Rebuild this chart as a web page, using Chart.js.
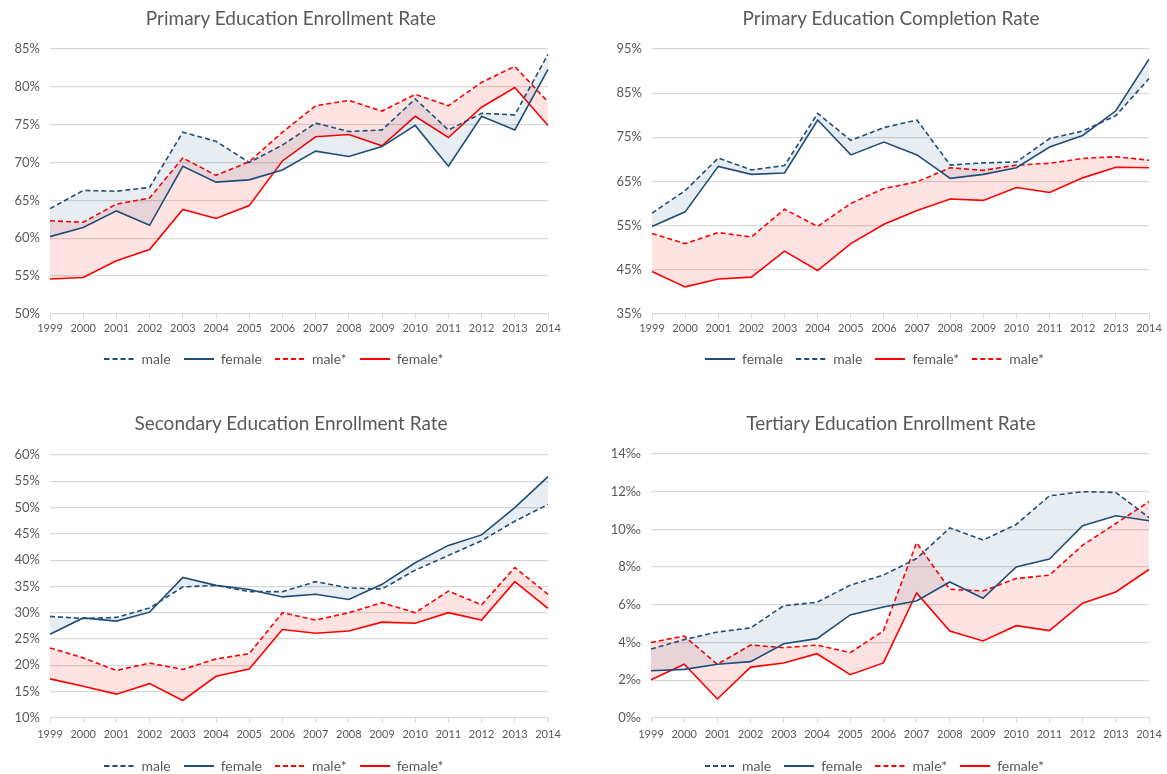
<!DOCTYPE html>
<html>
<head>
<meta charset="utf-8">
<script src="https://cdn.jsdelivr.net/npm/chart.js@4/dist/chart.umd.min.js"></script>
<style>
  body { margin: 0; background: #fff; width: 1167px; height: 774px; overflow: hidden; position: relative; }
  .box { position: absolute; }
  .title { position: absolute; text-align: center; font-family: Lato, "Noto Sans", sans-serif; font-size: 19px; line-height: 24px; color: #595959; white-space: nowrap; }
</style>
</head>
<body>
<div class="box" style="left:0;top:0"><canvas id="c1" width="583" height="376"></canvas></div>
<div class="box" style="left:600px;top:0"><canvas id="c2" width="567" height="376"></canvas></div>
<div class="box" style="left:0;top:405px"><canvas id="c3" width="583" height="378"></canvas></div>
<div class="box" style="left:600px;top:405px"><canvas id="c4" width="567" height="378"></canvas></div>
<div class="title" style="left:0;width:582px;top:6px">Primary Education Enrollment Rate</div>
<div class="title" style="left:600px;width:582px;top:6px">Primary Education Completion Rate</div>
<div class="title" style="left:0;width:582px;top:411px">Secondary Education Enrollment Rate</div>
<div class="title" style="left:600px;width:582px;top:411px">Tertiary Education Enrollment Rate</div>
<script>
// categories
const years = ["1999", "2000", "2001", "2002", "2003", "2004", "2005", "2006",
  "2007", "2008", "2009", "2010", "2011", "2012", "2013", "2014"];

// Primary education enrollment rate (%)
const enrolMale = [63.9, 66.3, 66.2, 66.7, 74.0, 72.8, 70.0, 72.3, 75.2, 74.1, 74.3, 78.4, 74.3, 76.5, 76.3, 84.3];
const enrolFemale = [60.2, 61.4, 63.6, 61.7, 69.5, 67.4, 67.7, 69.0, 71.5, 70.8, 72.1, 74.9, 69.5, 76.1, 74.3, 82.3];
const enrolMaleStar = [62.3, 62.1, 64.5, 65.3, 70.6, 68.3, 70.1, 74.0, 77.5, 78.2, 76.8, 79.0, 77.5, 80.6, 82.7, 78.0];
const enrolFemaleStar = [54.6, 54.8, 57.0, 58.5, 63.8, 62.6, 64.3, 70.2, 73.4, 73.7, 72.2, 76.1, 73.3, 77.3, 79.9, 74.9];

// Primary education completion rate (%)
const complFemale = [54.8, 58.1, 68.4, 66.6, 66.9, 78.9, 71.0, 73.9, 71.0, 65.7, 66.6, 68.1, 72.8, 75.4, 81.0, 92.7];
const complMale = [57.8, 62.9, 70.3, 67.6, 68.6, 80.4, 74.3, 77.2, 78.9, 68.7, 69.2, 69.4, 74.7, 76.4, 79.9, 88.3];
const complFemaleStar = [44.6, 41.1, 42.9, 43.3, 49.2, 44.8, 50.9, 55.3, 58.4, 61.0, 60.7, 63.6, 62.5, 65.8, 68.2, 68.1];
const complMaleStar = [53.2, 50.9, 53.4, 52.4, 58.7, 54.8, 60.0, 63.4, 64.9, 68.1, 67.5, 68.7, 69.1, 70.2, 70.6, 69.8];

// Secondary education enrollment rate (%)
const secMale = [29.3, 28.9, 29.1, 30.9, 34.9, 35.2, 34.0, 34.0, 35.9, 34.7, 34.5, 38.1, 40.9, 43.7, 47.4, 50.6];
const secFemale = [25.9, 29.0, 28.4, 30.1, 36.7, 35.2, 34.4, 33.0, 33.5, 32.5, 35.4, 39.5, 42.8, 44.8, 50.0, 55.9];
const secMaleStar = [23.3, 21.4, 19.0, 20.4, 19.2, 21.2, 22.2, 30.0, 28.6, 30.0, 31.9, 30.0, 34.1, 31.5, 38.6, 33.5];
const secFemaleStar = [17.4, 16.0, 14.5, 16.5, 13.3, 17.9, 19.3, 26.8, 26.1, 26.5, 28.2, 28.0, 30.0, 28.6, 35.9, 30.8];

// Tertiary education enrollment rate (per mille)
const terMale = [3.65, 4.15, 4.55, 4.77, 5.95, 6.13, 7.04, 7.57, 8.45, 10.08, 9.43, 10.26, 11.78, 12.0, 11.96, 10.63];
const terFemale = [2.50, 2.57, 2.84, 2.98, 3.93, 4.20, 5.46, 5.88, 6.20, 7.21, 6.34, 8.01, 8.42, 10.19, 10.72, 10.46];
const terMaleStar = [4.0, 4.34, 2.84, 3.86, 3.72, 3.86, 3.46, 4.61, 9.29, 6.82, 6.73, 7.39, 7.57, 9.16, 10.31, 11.47];
const terFemaleStar = [2.02, 2.84, 1.0, 2.69, 2.91, 3.40, 2.29, 2.91, 6.63, 4.61, 4.08, 4.89, 4.63, 6.08, 6.68, 7.87];

const NAVY = "#1F4E79";
const RED = "#FF0000";
const NAVY_FILL = "rgba(31,78,121,0.10)";
const RED_FILL = "rgba(255,0,0,0.11)";
const GREY_TEXT = "#595959";
const GRID = "#D9D9D9";
const FONT = "Lato, 'Noto Sans', sans-serif";

// small canvas used as legend symbol (line sample)
function legendLine(color, dashed) {
  const c = document.createElement("canvas");
  c.width = 30;
  c.height = 4;
  const g = c.getContext("2d");
  g.strokeStyle = color;
  g.lineWidth = 2;
  if (dashed) g.setLineDash([5, 3]);
  g.beginPath();
  g.moveTo(0, 2);
  g.lineTo(30, 2);
  g.stroke();
  return c;
}

function series(label, data, color, dashed, fillColor) {
  return {
    label: label,
    data: data,
    borderColor: color,
    backgroundColor: fillColor || color,
    borderWidth: 1.6,
    borderDash: dashed ? [5, 3] : [],
    pointRadius: 0,
    pointHoverRadius: 0,
    pointStyle: legendLine(color, dashed),
    tension: 0,
    fill: fillColor ? { target: "+1", above: fillColor, below: fillColor } : false
  };
}

// title is drawn as html text above each canvas
function makeChart(id, datasets, yMin, yMax, yStep, suffix, yWidth, padRight, padTop, xPad) {
  const el = document.getElementById(id);
  if (!el) return;
  new Chart(el, {
    type: "line",
    data: { labels: years, datasets: datasets },
    options: {
      responsive: false,
      animation: false,
      layout: { padding: { left: 0, right: padRight, top: padTop, bottom: 0 } },
      plugins: {
        title: { display: false },
        legend: {
          position: "bottom",
          labels: {
            usePointStyle: true,
            pointStyleWidth: 30,
            boxHeight: 4,
            color: GREY_TEXT,
            font: { family: FONT, size: 14 },
            padding: 13
          }
        },
        tooltip: { enabled: false }
      },
      scales: {
        x: {
          offset: false,
          grid: { drawOnChartArea: false, drawTicks: true, tickLength: 5, color: GRID },
          border: { color: GRID },
          ticks: { color: GREY_TEXT, font: { family: FONT, size: 11 }, maxRotation: 0, autoSkip: false, padding: xPad }
        },
        y: {
          min: yMin,
          max: yMax,
          afterFit: s => { s.width = yWidth; },
          grid: { color: GRID, drawTicks: false, lineWidth: 1.2 },
          border: { display: false },
          ticks: {
            stepSize: yStep,
            color: GREY_TEXT,
            font: { family: FONT, size: 13 },
            padding: 10,
            callback: v => v + suffix
          }
        }
      }
    }
  });
}

try {
  makeChart("c1", [
    series("male", enrolMale, NAVY, true, NAVY_FILL),
    series("female", enrolFemale, NAVY, false),
    series("male*", enrolMaleStar, RED, true, RED_FILL),
    series("female*", enrolFemaleStar, RED, false)
  ], 50, 85, 5, "%", 50, 35, 49, 3.5);

  makeChart("c2", [
    series("female", complFemale, NAVY, false, NAVY_FILL),
    series("male", complMale, NAVY, true),
    series("female*", complFemaleStar, RED, false, RED_FILL),
    series("male*", complMaleStar, RED, true)
  ], 35, 95, 10, "%", 52, 18, 49, 3.5);

  makeChart("c3", [
    series("male", secMale, NAVY, true, NAVY_FILL),
    series("female", secFemale, NAVY, false),
    series("male*", secMaleStar, RED, true, RED_FILL),
    series("female*", secFemaleStar, RED, false)
  ], 10, 60, 5, "%", 50, 35, 50, 5);

  makeChart("c4", [
    series("male", terMale, NAVY, true, NAVY_FILL),
    series("female", terFemale, NAVY, false),
    series("male*", terMaleStar, RED, true, RED_FILL),
    series("female*", terFemaleStar, RED, false)
  ], 0, 14, 2, "\u2030", 51, 18, 49, 5);
} catch (e) {
  console.error("chart error:", e);
}
</script>
</body>
</html>
